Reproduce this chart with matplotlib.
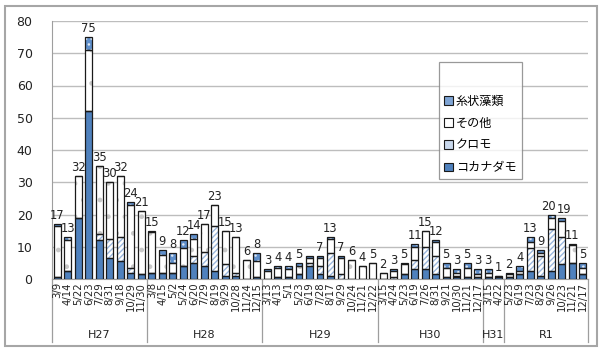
import matplotlib
matplotlib.use('Agg')
import matplotlib.pyplot as plt
from matplotlib.patches import Patch, Rectangle
import matplotlib.transforms as mtransforms

plt.rcParams['font.family'] = ['DejaVu Sans', 'Noto Sans CJK JP']

# ---------------------------------------------------------------
# Data
# ---------------------------------------------------------------
dates = ['3/9', '4/14', '5/22', '6/23', '7/29', '8/31', '9/18', '10/29', '11/30',
         '3/8', '4/15', '5/2', '5/24', '6/20', '7/29', '8/19', '9/29', '10/28', '11/24', '12/15',
         '3/13', '4/13', '5/1', '5/23', '6/19', '7/28', '8/17', '9/29', '10/24', '11/21', '12/22',
         '3/15', '4/24', '5/23', '6/19', '7/26', '8/31', '9/21', '10/30', '11/21', '12/17',
         '3/15', '4/22',
         '5/23', '6/19', '7/23', '8/29', '9/26', '10/23', '11/21', '12/17']
groups = ['H27', 'H28', 'H29', 'H30', 'H31', 'R1']
group_sizes = [9, 11, 11, 10, 2, 8]

kokanadamo = [0.5, 2.5, 19, 52, 12, 6.5, 5.5, 2, 1.5,
              2, 2, 2, 4, 5, 4, 2.5, 1, 1, 0, 0.5,
              0, 0.5, 0.5, 1.5, 4, 1.5, 1, 0, 0, 0, 0,
              0, 0, 1.5, 3, 3, 1.5, 0.5, 0.5, 0.5, 0.5,
              0.5, 0.5,
              0.5, 1.5, 2.5, 1, 2.5, 4.5, 5, 1.5]
kuromo = [0, 0, 0, 0, 2, 6, 7.5, 1.5, 0,
          0, 0, 0, 0, 2, 4.5, 14, 3.5, 1, 0, 0,
          0, 0, 0, 0, 1, 2.5, 7, 1.5, 0, 0, 0,
          0, 0.5, 0, 3, 7, 5.5, 0, 0.5, 0, 0,
          0, 0,
          0, 0, 7, 6, 13, 8.5, 0, 0]
sonota = [16, 9.5, 13, 19, 21, 17.5, 19, 19.5, 19.5,
          12.5, 5.5, 3, 5.5, 5.5, 8.5, 6.5, 10.5, 11, 6, 5,
          2.5, 3, 2.5, 2.5, 1.5, 2.5, 4.5, 5, 6, 4, 5,
          2, 2, 3, 4, 5, 4.5, 3, 1, 3, 1,
          1.5, 0.5,
          1, 1, 2, 1, 3.5, 5, 5.5, 2]
shijo = [0.5, 1, 0, 4, 0, 0, 0, 1, 0,
         0.5, 1.5, 3, 2.5, 1.5, 0, 0, 0, 0, 0, 2.5,
         0.5, 0.5, 1, 1, 0.5, 0.5, 0.5, 0.5, 0, 0, 0,
         0, 0.5, 0.5, 1, 0, 0.5, 1.5, 1, 1.5, 1.5,
         1, 0,
         0.5, 1.5, 1.5, 1, 1, 1, 0.5, 1.5]
# value labels shown above the bars ('' = no label in the original)
value_labels = ['17', '13', '32', '75', '35', '30', '32', '24', '21',
                '15', '9', '8', '12', '14', '17', '23', '15', '13', '6', '8',
                '3', '4', '4', '5', '', '7', '13', '7', '6', '4', '5',
                '2', '3', '5', '11', '15', '12', '5', '3', '5', '3',
                '3', '1',
                '2', '4', '13', '9', '20', '19', '11', '5']

series_names = ['コカナダモ', 'クロモ', 'その他', '糸状藻類']

# Styles
BLUE = '#4F81BD'
EDGE = '#1A1A1A'
styles = [
    dict(color=BLUE, hatch=None, hcol=BLUE, leg='#4F81BD'),
    dict(color='white', hatch='//////', hcol='#9BB7DD', leg='#C9D8EC'),
    dict(color='white', hatch='.', hcol='#C8C8C8', leg='white'),
    dict(color='#5F8FCB', hatch='...', hcol='#DCE6F2', leg='#7EA4D4'),
]

fig = plt.figure(figsize=(6.02, 3.5), dpi=100)
ax = fig.add_axes([52 / 602, 71 / 350, 536 / 602, 258 / 350])

x = list(range(len(dates)))
width = 0.66
bottom = [0.0] * len(dates)
for vals, st in zip([kokanadamo, kuromo, sonota, shijo], styles):
    ax.bar(x, vals, width, bottom=bottom, color=st['color'], edgecolor=st['hcol'],
           hatch=st['hatch'], linewidth=0, zorder=3)
    ax.bar(x, vals, width, bottom=bottom, fill=False, edgecolor=EDGE,
           linewidth=0.9, zorder=4)
    bottom = [b + v for b, v in zip(bottom, vals)]

# value labels; the two tall R1 neighbours are nudged apart as in the original
nudge = {47: -0.25, 48: 0.25}
for i, (tot, lab) in enumerate(zip(bottom, value_labels)):
    if lab:
        ax.text(i + nudge.get(i, 0), tot + 0.6, lab, ha='center', va='bottom',
                fontsize=8.3, color='#222222', zorder=5)

ax.set_xlim(-0.5, len(dates) - 0.5)
ax.set_ylim(0, 80)
ax.set_yticks(range(0, 81, 10))
ax.tick_params(axis='y', length=0, labelsize=9, pad=14, colors='#222222')
ax.set_xticks([])
ax.grid(axis='y', color='#BDBDBD', linewidth=1, zorder=0)
for s in ['top', 'right']:
    ax.spines[s].set_visible(False)
ax.spines['left'].set_color('#9E9E9E')
ax.spines['bottom'].set_color('#9E9E9E')

# Two-level category axis
trans = mtransforms.blended_transform_factory(ax.transData, ax.transAxes)
for i, d in enumerate(dates):
    ax.text(i, -0.012, d, transform=trans, rotation=90, ha='center', va='top',
            fontsize=7.3, color='#222222', clip_on=False)

start = 0
for g, n in zip(groups, group_sizes):
    end = start + n
    ax.plot([end - 0.5, end - 0.5], [0, -0.245], transform=trans, color='#9E9E9E',
            linewidth=0.9, clip_on=False)
    ax.text((start + end - 1) / 2, -0.217, g, transform=trans, ha='center',
            va='center', fontsize=8, color='#222222')
    start = end
ax.plot([-0.5, -0.5], [0, -0.245], transform=trans, color='#9E9E9E',
        linewidth=0.9, clip_on=False)

# Legend (reverse order, like the original)
handles = [Patch(facecolor=st['leg'], edgecolor=EDGE, linewidth=0.8) for st in styles]
leg = ax.legend(handles[::-1], series_names[::-1], loc='upper left',
                bbox_to_anchor=(0.722, 0.84), borderaxespad=0, fontsize=8.7,
                frameon=True, fancybox=False, edgecolor='#808080',
                handlelength=0.7, handleheight=0.7, handletextpad=0.25,
                labelspacing=0.75, borderpad=0.45, title=' ', title_fontsize=13)
leg.get_frame().set_linewidth(0.9)
leg.set_zorder(6)

# Outer chart border
fig.patches.append(Rectangle((5 / 602, 4 / 350), 592 / 602, 340 / 350,
                             transform=fig.transFigure, fill=False,
                             edgecolor='#A6A6A6', linewidth=1.5))

fig.savefig('out.png', dpi=100)
